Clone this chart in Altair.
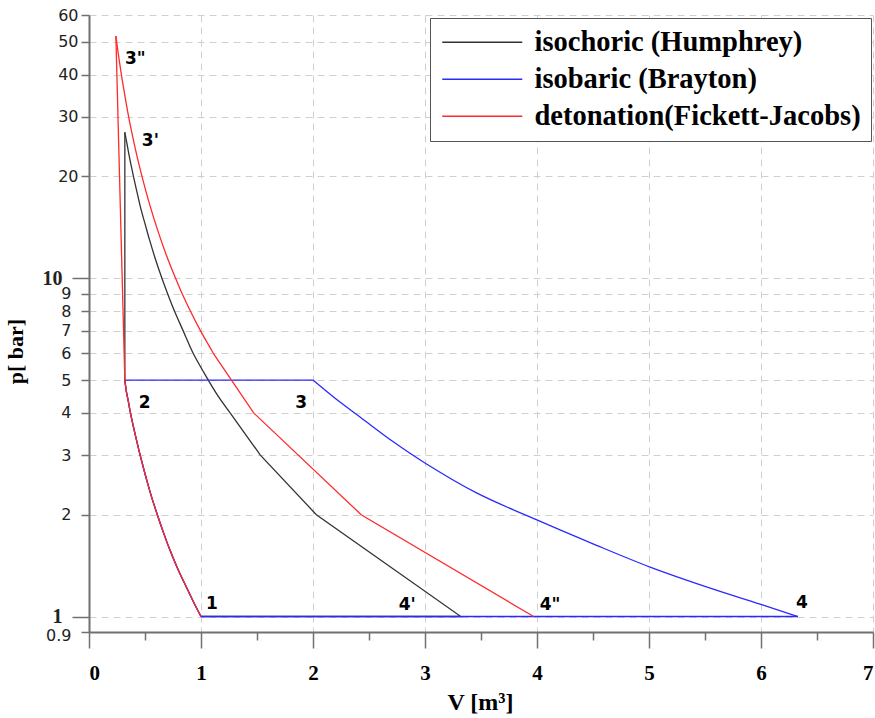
import altair as alt
import pandas as pd

series_names = ["isochoric (Humphrey)", "isobaric (Brayton)", "detonation(Fickett-Jacobs)"]
series_colors = ["#333333", "#2a2aff", "#ff2a2a"]

# common compression 1 -> 2 (smooth)
comp_V = [1.0, 0.93, 0.85, 0.79, 0.72, 0.66, 0.61, 0.56, 0.52, 0.48, 0.45, 0.42, 0.40, 0.37, 0.35, 0.335, 0.32]
comp_p = [1.0, 1.11, 1.26, 1.39, 1.58, 1.79, 2.0, 2.25, 2.5, 2.8, 3.06, 3.37, 3.6, 4.0, 4.35, 4.6, 5.0]

# Humphrey
hum_iso_V = [0.32, 0.32]                      # 2 -> 3' isochoric
hum_iso_p = [5, 27]
hum_exp_V = [0.32, 0.339, 0.359, 0.377, 0.397, 0.428, 0.464, 0.50, 0.54, 0.589, 0.651, 0.702,
             0.763, 0.84, 0.93, 1.065, 1.15, 1.26]   # 3' -> expansion (curved part)
hum_exp_p = [27, 25, 23, 21.5, 20, 18, 16, 14.5, 13, 11.5, 10, 9, 8, 7, 6, 5, 4.5, 4]
hum_end_V = [1.26, 1.53, 2.03, 3.32, 1.0]      # straight part -> 4' -> 1
hum_end_p = [4, 3, 2, 1, 1]

# Brayton
bra_iso_V = [0.32, 2.00]                      # 2 -> 3 isobaric
bra_iso_p = [5, 5]
bra_exp_V = [2.00, 2.20, 2.42, 2.72, 3.01, 3.46, 4.03, 4.50, 5.01, 5.54, 6.02, 6.33]
bra_exp_p = [5.0, 4.41, 3.89, 3.28, 2.83, 2.32, 1.91, 1.64, 1.40, 1.215, 1.08, 1.0]
bra_end_V = [6.33, 1.0]                       # 4 -> 1
bra_end_p = [1.0, 1.0]

# Fickett-Jacobs
fj_det_V = [0.32, 0.24]                       # 2 -> 3''
fj_det_p = [5, 52]
fj_exp_V = [0.24, 0.262, 0.289, 0.315, 0.346, 0.382, 0.428, 0.473, 0.542, 0.615, 0.691, 0.773,
            0.832, 0.905, 0.995, 1.05, 1.11]
fj_exp_p = [52, 46, 40, 35.5, 31, 27, 23, 20, 16.5, 13.8, 11.7, 10, 9, 8, 7, 6.5, 6]
fj_end_V = [1.11, 1.47, 2.43, 3.97]            # straight part -> 4''
fj_end_p = [6, 4, 2, 1]

state_labels = ["1", "2", "3", "3'", "3\"", "4'", "4\"", "4"]
state_V = [1.0, 0.32, 2.00, 0.32, 0.24, 3.32, 3.97, 6.33]
state_p = [1, 5, 5, 27, 52, 1, 1, 1]

segments = [
    (series_names[0], "c", True, comp_V, comp_p),
    (series_names[0], "a", False, hum_iso_V, hum_iso_p),
    (series_names[0], "b", True, hum_exp_V, hum_exp_p),
    (series_names[0], "d", False, hum_end_V, hum_end_p),
    (series_names[1], "c", True, comp_V, comp_p),
    (series_names[1], "a", False, bra_iso_V, bra_iso_p),
    (series_names[1], "b", True, bra_exp_V, bra_exp_p),
    (series_names[1], "d", False, bra_end_V, bra_end_p),
    (series_names[2], "c", True, comp_V, comp_p),
    (series_names[2], "a", False, fj_det_V, fj_det_p),
    (series_names[2], "b", True, fj_exp_V, fj_exp_p),
    (series_names[2], "d", False, fj_end_V, fj_end_p),
]
rows = []
for name, seg, smooth, V, p in segments:
    for i, (v, pp) in enumerate(zip(V, p)):
        rows.append({"series": name, "seg": seg, "smooth": smooth, "V": v, "p": pp, "order": i})
df = pd.DataFrame(rows)

lab_df = pd.DataFrame({"idx": list(range(len(state_labels))), "label": state_labels,
                       "V": state_V, "p": state_p})

xscale = alt.Scale(domain=[0, 7], nice=False, zero=False)
yscale = alt.Scale(type="log", domain=[0.9, 60], nice=False)

x_axis = alt.Axis(
    values=[i * 0.5 for i in range(15)],
    labelExpr="datum.value % 1 === 0 ? '' + datum.value : ''",
    labelFont="Liberation Serif", labelFontWeight="bold", labelFontSize=21,
    labelColor="black", labelPadding=14, labelOverlap=False,
    tickSize={"condition": {"test": "datum.value % 1 === 0", "value": 16}, "value": 8},
    gridOpacity={"condition": {"test": "datum.value % 1 === 0", "value": 1}, "value": 0},
    title="V [m³]", titleFont="Liberation Serif", titleFontWeight="bold", titleFontSize=24,
    titleColor="black", titleX=391, titleY=70, titleBaseline="middle", titleAlign="center",
)
big = "datum.value === 1 || datum.value === 10"
big20 = "datum.value >= 20"
y_axis = alt.Axis(
    values=[0.9, 1, 2, 3, 4, 5, 6, 7, 8, 9, 10, 20, 30, 40, 50, 60],
    labelExpr="'' + datum.value",
    labelOverlap=False,
    labelFont={"condition": {"test": big, "value": "Liberation Serif"}, "value": "DejaVu Sans"},
    labelFontWeight={"condition": {"test": big, "value": "bold"}, "value": "normal"},
    labelFontSize={"condition": {"test": big, "value": 20}, "value": 16},
    labelOffset={"condition": {"test": "datum.value < 1", "value": 3}, "value": 0},
    labelColor="#222222", labelBaseline="middle",
    labelPadding={"condition": {"test": big20, "value": 3}, "value": 10},
    tickSize={"condition": {"test": big, "value": 17}, "value": 8},
    title="p[ bar]", titleFont="Liberation Serif", titleFontWeight="bold", titleFontSize=22,
    titleColor="black", titleX=-74, titleY=336, titleAngle=270,
    titleBaseline="middle", titleAlign="center",
)

legend = alt.Legend(
    orient="none", legendX=341, legendY=3, title=None,
    symbolType="M-1,0H5.67", symbolSize=576, symbolStrokeWidth=1.3,
    labelFont="Liberation Serif", labelFontWeight="bold", labelFontSize=28.5, labelColor="black",
    labelOffset=66, labelLimit=600, padding=10, rowPadding=8,
    strokeColor="#555555", fillColor="white",
    labelExpr="datum.label === 'detonation(Fickett-Jacobs)' ? datum.label : '\u00a0' + datum.label",
)
color = alt.Color("series:N", scale=alt.Scale(domain=series_names, range=series_colors), legend=legend)

base = alt.Chart(df)
lines = []
for name in series_names:
    for smooth in (True, False):
        mark = (base.transform_filter((alt.datum.series == name) & (alt.datum.smooth == smooth))
                .mark_line(strokeWidth=1.3, clip=True,
                           interpolate="catmull-rom" if smooth else "linear"))
        lines.append(
            mark.encode(
                x=alt.X("V:Q", scale=xscale, axis=x_axis),
                y=alt.Y("p:Q", scale=yscale, axis=y_axis),
                color=color,
                detail="seg:N",
                order="order:Q",
            )
        )

offsets = {
    0: (5, -8, "left"),
    1: (14, 28, "left"),
    2: (-6, 28, "right"),
    3: (17, 14, "left"),
    4: (9, 28, "left"),
    5: (-45, -7, "right"),
    6: (6, -7, "left"),
    7: (-2, -9, "left"),
}
texts = []
for i in range(len(state_labels)):
    dx, dy, al = offsets[i]
    texts.append(
        alt.Chart(lab_df).transform_filter(alt.datum.idx == i)
        .mark_text(dx=dx, dy=dy, align=al, baseline="alphabetic", font="DejaVu Sans",
                   fontWeight="bold", fontSize=17, color="black")
        .encode(x=alt.X("V:Q", scale=xscale), y=alt.Y("p:Q", scale=yscale), text="label:N")
    )

chart = alt.layer(*lines, *texts).properties(
    width=784, height=617,
    autosize=alt.AutoSizeParams(type="none"),
    padding={"left": 89, "top": 15, "right": 2, "bottom": 86},
).configure_view(stroke=None).configure_axis(
    domainColor="#707070", domainWidth=2, tickColor="#707070", tickWidth=1.5,
    gridColor="#d0d0d0", gridDash=[7, 5], gridWidth=1,
)

chart.save("out.html", embed_options={"renderer": "svg", "actions": False})
